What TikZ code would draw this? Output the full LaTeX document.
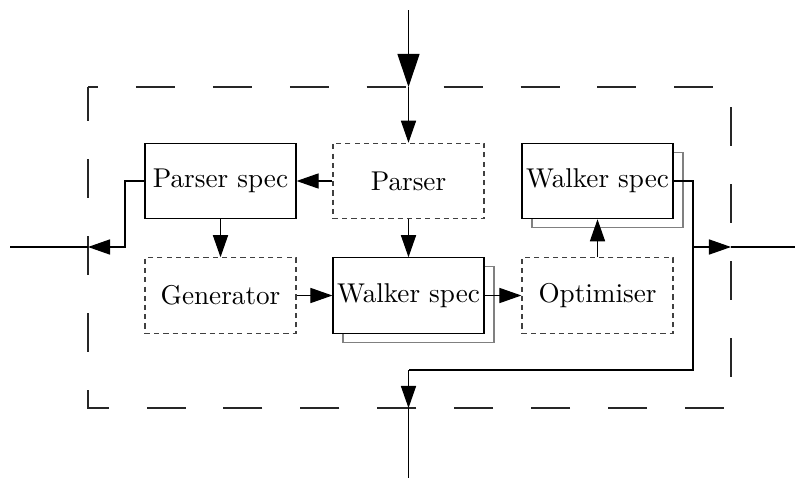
\documentclass[tikz,border=0pt]{standalone}
\usetikzlibrary{arrows.meta,shadows}
\begin{document}
\begin{tikzpicture}[x=0.39pt,y=-0.39pt,
  line width=0.45pt,
  med/.tip={Triangle[length=8.6pt,width=5.9pt]},
  big/.tip={Triangle[length=12.9pt,width=8.6pt]},
  blk/.style={draw, fill=white, minimum width=58.9pt, minimum height=29.4pt, inner sep=0pt, font=\fontsize{10.6}{12}\selectfont},
  dotbox/.style={blk, draw=black!75, dash pattern=on 2pt off 1.6pt},
  shad/.style={copy shadow={shadow xshift=3.9pt, shadow yshift=-3.5pt, draw=black!50, fill=white}},
  frame/.style={dash pattern=on 15.2pt off 14.8pt, dash phase=11.3pt, draw=black!85}]
\useasboundingbox (0,0) rectangle (795,480);
% frame
\draw[frame] (88,87) -- (731,87) -- (731,408) -- (88,408) -- cycle;
% boxes
\node[blk] (pspec) at (220.5,181) {Parser spec};
\node[dotbox] (parser) at (408.5,181) {Parser};
\node[blk, shad] (wtop) at (597.5,181) {Walker spec};
\node[dotbox] (gen) at (220.5,295.5) {Generator};
\node[blk, shad] (wmid) at (408.5,295.5) {Walker spec};
\node[dotbox] (opt) at (597.5,295.5) {Optimiser};
% coordinates
\coordinate (tin) at (408.5,10);
\coordinate (btop) at (408.5,87);
\coordinate (ljog) at (125,247);
\coordinate (bleft) at (88,247);
\coordinate (lend) at (10,247);
\coordinate (rjog) at (693,247);
\coordinate (bright) at (731,247);
\coordinate (rend) at (795,247);
\coordinate (bjog) at (408.5,370);
\coordinate (bbot) at (408.5,408);
\coordinate (bend) at (408.5,478);
% connectors
\draw[-big] (tin) -- (btop);
\draw[-med] (btop) -- (parser.north);
\draw[-med] (parser.west) -- (pspec.east);
\draw[-med] (pspec.south) -- (gen.north);
\draw[-med] (parser.south) -- (wmid.north);
\draw[-med] (gen.east) -- (wmid.west);
\draw[-med] (wmid.east) -- (opt.west);
\draw[-med] (opt.north) -- (wtop.south);
\draw[-med] (pspec.west) -| (ljog) -- (bleft);
\draw (bleft) -- (lend);
\draw (wtop.east) -| (rjog);
\draw[-med] (rjog) -- (bright);
\draw (bright) -- (rend);
\draw (rjog) |- (bjog);
\draw[-med] (bjog) -- (bbot);
\draw (bbot) -- (bend);
\end{tikzpicture}
\end{document}
